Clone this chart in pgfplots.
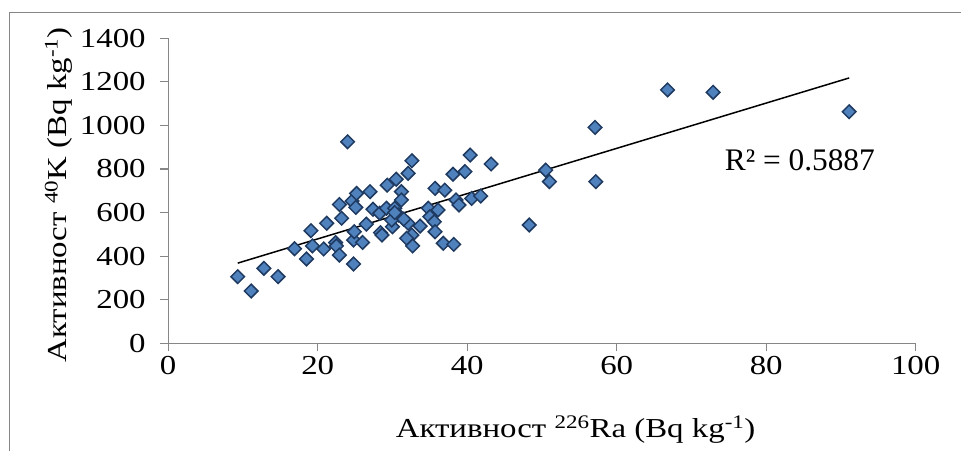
\documentclass[border=0pt]{standalone}
\usepackage{fontspec}
\setmainfont{Liberation Serif}[FakeStretch=1.2]
\newfontfamily\plainfont{Liberation Serif}
\usepackage{pgfplots}
\pgfplotsset{compat=1.18}
\definecolor{mfill}{HTML}{4F81BD}
\definecolor{mdraw}{HTML}{1F3A60}
\definecolor{axgray}{HTML}{868686}
\begin{document}
\begin{tikzpicture}
\useasboundingbox (-168.2bp,-107.7bp) rectangle (792.8bp,343.3bp);
\draw[axgray, line width=1bp] (-159bp,-107.7bp) -- (-159bp,330.5bp) -- (792.8bp,330.5bp);
\begin{axis}[
  at={(0,0)}, anchor=origin,
  scale only axis, width=747.5bp, height=305bp,
  xmin=0, xmax=100, ymin=0, ymax=1400,
  axis x line*=bottom, axis y line*=left,
  axis line style={axgray, line width=1.2bp},
  xtick={0,20,...,100}, ytick={0,200,...,1400},
  tick align=outside, major tick length=8bp,
  tick style={axgray, line width=1.2bp},
  every tick label/.append style={font=\fontsize{27.5}{30}\selectfont, text=black},
  /pgf/number format/assume math mode=true,
  /pgf/number format/set thousands separator={},
  xticklabel style={yshift=-1bp},
  yticklabel style={xshift=-11bp},
  clip=false,
]
\addplot[only marks, mark=square*, mark size=4.8bp,
  mark options={rotate=45, fill=mfill, draw=mdraw, line width=1.5bp}]
coordinates {
(9.3,306) (11.1,240) (12.8,344) (14.7,306) (16.9,434) (18.5,387) (19.1,517)
(19.3,447) (20.8,433) (21.2,551) (22.4,462) (22.5,447) (22.9,405) (22.9,637)
(23.2,574) (24.0,925) (24.8,364) (24.6,653) (25.2,688) (24.8,474) (24.9,512)
(25.1,624) (26.0,463) (26.5,547) (27.0,696) (27.4,615) (28.3,597) (28.4,508)
(28.6,497) (29.2,620) (29.3,726) (30.0,535) (30.3,620) (30.5,753) (30.8,589)
(29.9,566) (31.2,696) (31.2,658) (32.1,780) (32.6,838) (32.1,551) (32.6,497)
(31.9,482) (32.7,447) (33.7,538) (34.8,620) (35.0,581) (35.6,558) (35.7,512)
(36.1,612) (35.7,711) (37.0,703) (36.8,459) (38.2,454) (38.1,776) (38.5,658)
(38.9,635) (39.7,788) (40.4,864) (40.6,665) (41.8,676) (43.2,823) (48.3,543)
(50.5,795) (51.0,742) (57.1,991) (57.2,742) (66.8,1163) (72.9,1152) (91.1,1063)
(31.5,570) (30.3,600)
};
\addplot[black, line width=1.5bp] coordinates {(9.3,368) (91.1,1218)};
\node[font=\plainfont\fontsize{31.5}{34}\selectfont, anchor=center] at (axis cs:84.5,841) {R² = 0.5887};
\end{axis}
\node[font=\fontsize{27.5}{30}\selectfont, anchor=base] at (407.4bp,-93.7bp)
  {Активност \textsuperscript{226}Ra (Bq kg\textsuperscript{-1})};
\node[font=\fontsize{27.5}{30}\selectfont, anchor=base, rotate=90] at (-101.5bp,148.3bp)
  {Активност \textsuperscript{40}K (Bq kg\textsuperscript{-1})};
\end{tikzpicture}
\end{document}
